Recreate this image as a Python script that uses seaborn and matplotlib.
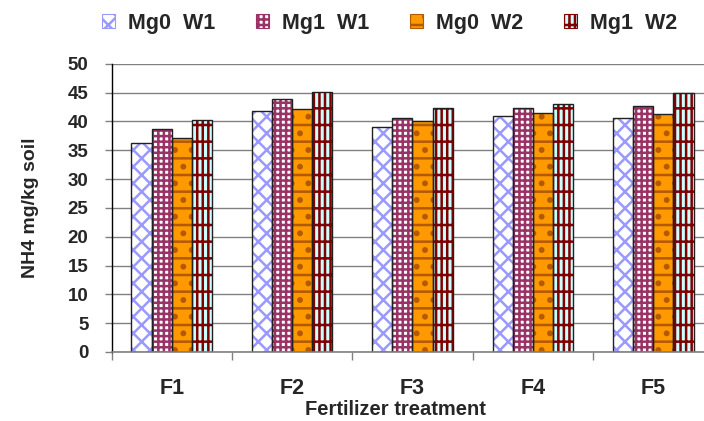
import numpy as np
import pandas as pd
import matplotlib
matplotlib.use("Agg")
import matplotlib.pyplot as plt
import seaborn as sns
from matplotlib.patches import Rectangle

# ==========================================
# DATA
# ==========================================
treatments = ["F1", "F2", "F3", "F4", "F5"]
groups = ["Mg0  W1", "Mg1  W1", "Mg0  W2", "Mg1  W2"]

mg0_w1 = [36.3, 41.8, 39.1, 40.9, 40.5]
mg1_w1 = [38.7, 43.9, 40.5, 42.4, 42.7]
mg0_w2 = [37.2, 42.1, 40.0, 41.5, 41.2]
mg1_w2 = [40.2, 45.1, 42.4, 43.0, 44.9]

y_ticks = [0, 5, 10, 15, 20, 25, 30, 35, 40, 45, 50]

# ==========================================
# STYLE
# ==========================================
# (face colour, hatch colour, hatch)
bar_styles = [
    ("white", "#9999FF", "xx"),
    ("white", "#993366", "+++"),
    ("#FF9900", "#B35900", "-."),
    ("#CCFFFF", "#800000", "||+"),
]

sns.set_style("white")
plt.rcParams["font.family"] = ["Liberation Sans", "DejaVu Sans"]
plt.rcParams["font.weight"] = "bold"
plt.rcParams["hatch.linewidth"] = 1.8

df = pd.DataFrame({
    "treatment": treatments * 4,
    "group": np.repeat(groups, len(treatments)),
    "value": mg0_w1 + mg1_w1 + mg0_w2 + mg1_w2,
})

fig = plt.figure(figsize=(7.04, 4.21), dpi=100)
ax = fig.add_axes([0.1584, 0.1639, 0.855, 0.6848])

sns.barplot(data=df, x="treatment", y="value", hue="group",
            order=treatments, hue_order=groups, width=0.67,
            ax=ax, legend=False, saturation=1)

handles = []
for cont, (fc, hc, hatch) in zip(ax.containers, bar_styles):
    for bar in cont:
        bar.set_facecolor(fc)
        bar.set_edgecolor(hc)
        bar.set_hatch(hatch)
        bar.set_linewidth(0)
        x0, y0 = bar.get_xy()
        ax.add_patch(Rectangle((x0, y0), bar.get_width(), bar.get_height(),
                               fill=False, edgecolor="#202020", lw=1.0,
                               zorder=bar.get_zorder() + 0.1))
    handles.append(Rectangle((0, 0), 1, 1, facecolor=fc, edgecolor=hc,
                             hatch=hatch, lw=0.8))

# axes, grid, ticks
ax.set_ylim(0, 50)
ax.set_xlim(-0.5, len(treatments) - 0.5)
ax.set_yticks(y_ticks)
ax.yaxis.grid(True, color="#808080", lw=1.0)
ax.set_axisbelow(True)
ax.tick_params(axis="y", which="major", direction="out", length=5,
               width=1, color="#808080", pad=11.5, labelsize=13.5, left=True)

ax.set_xticks(np.arange(-0.5, len(treatments), 1.0))
ax.set_xticklabels([])
ax.set_xticks(np.arange(len(treatments)), minor=True)
ax.set_xticklabels(treatments, minor=True)
ax.tick_params(axis="x", which="major", direction="out", length=6,
               width=1, color="#808080", bottom=True)
ax.tick_params(axis="x", which="minor", length=0, pad=19, labelsize=15.5)

for s in ["top", "right"]:
    ax.spines[s].set_visible(False)
ax.spines["left"].set_color("black")
ax.spines["bottom"].set_color("#808080")
ax.spines["left"].set_linewidth(1.0)
ax.spines["bottom"].set_linewidth(1.2)

ax.set_ylabel("NH4 mg/kg soil", fontsize=14, fontweight="bold")
ax.yaxis.set_label_coords(-0.121, 0.5)
ax.set_xlabel("Fertilizer treatment", fontsize=14.5, fontweight="bold")
ax.xaxis.set_label_coords(0.471, -0.198)
ax.xaxis.label.set_va("center")

fig.legend(handles, groups, loc="center", bbox_to_anchor=(0.553, 0.945),
           ncol=4, frameon=False, handlelength=0.6,
           handleheight=0.6, handletextpad=0.6, columnspacing=1.9,
           borderpad=0, prop={"weight": "bold", "size": 15.5})

fig.savefig("out.png", dpi=100)
